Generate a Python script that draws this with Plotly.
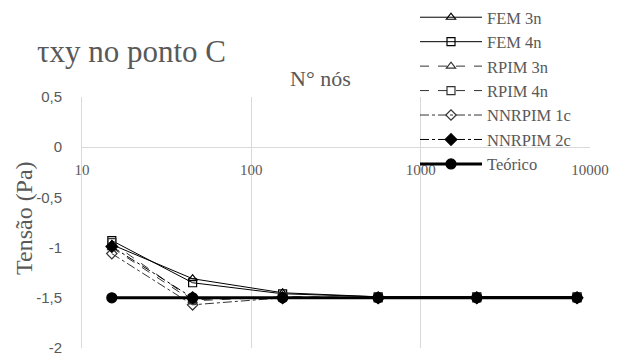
import plotly.graph_objects as go

nodes = [15, 45, 153, 561, 2145, 8385]
fem3 = [-0.97, -1.31, -1.45, -1.49, -1.49, -1.49]
fem4 = [-0.93, -1.35, -1.46, -1.49, -1.49, -1.49]
rpim3 = [-1.00, -1.53, -1.49, -1.50, -1.50, -1.50]
rpim4 = [-0.95, -1.52, -1.49, -1.50, -1.50, -1.50]
nnr1 = [-1.06, -1.57, -1.50, -1.50, -1.50, -1.50]
nnr2 = [-0.99, -1.50, -1.50, -1.50, -1.50, -1.50]
teo = [-1.5, -1.5, -1.5, -1.5, -1.5, -1.5]

ytickvals = [0.5, 0, -0.5, -1, -1.5, -2]
yticktext = ["0,5", "0", "-0,5", "-1", "-1,5", "-2"]
xtickvals = [10, 100, 1000, 10000]
xticktext = ["10", "100", "1000", "10000"]

W, H = 617, 358
ml, mr, mt, mb = 82, 27, 97, 10
PW, PH = W - ml - mr, H - mt - mb

serif = "Liberation Serif, serif"
grey = "#595959"
grid = "#d9d9d9"

series = [
    ("FEM 3n", fem3, "solid", "triangle-up-open", 1, 8, "black"),
    ("FEM 4n", fem4, "solid", "square-open", 1, 8, "black"),
    ("RPIM 3n", rpim3, "dash", "triangle-up-open", 1, 8, "#333333"),
    ("RPIM 4n", rpim4, "dash", "square-open", 1, 8, "#333333"),
    ("NNRPIM 1c", nnr1, "dashdot", "diamond-open", 1, 8, "#333333"),
    ("NNRPIM 2c", nnr2, "dashdot", "diamond", 1, 9, "black"),
    ("Teórico", teo, "solid", "circle", 3, 10, "black"),
]

fig = go.Figure()
for name, ys, dash, sym, lw, ms, col in series:
    fig.add_trace(go.Scatter(
        x=nodes, y=ys, name=name, mode="lines+markers",
        line=dict(color=col, width=lw, dash=dash),
        marker=dict(symbol=sym, size=ms, color=col,
                    line=dict(color=col, width=1.2)),
    ))

fig.update_layout(
    width=W, height=H,
    margin=dict(l=ml, r=mr, t=mt, b=mb, autoexpand=False),
    paper_bgcolor="white", plot_bgcolor="white",
    separators=",.",
    showlegend=True,
    legend=dict(
        x=(415 - ml) / PW, xref="paper",
        y=1.0, yref="container", yanchor="top", xanchor="left",
        font=dict(family=serif, size=16.5, color=grey),
        bgcolor="rgba(255,255,255,0)", borderwidth=0,
        itemwidth=62, maxheight=1,
    ),
    xaxis=dict(
        type="log", range=[1, 4],
        tickvals=xtickvals, ticktext=xticktext,
        showgrid=True, gridcolor=grid, gridwidth=1,
        showline=True, linecolor=grid, linewidth=1,
        zeroline=False, ticks="", ticklabelstandoff=9,
        anchor="free", position=0.8,
        tickfont=dict(family=serif, size=15, color=grey),
    ),
    yaxis=dict(
        range=[-2, 0.5],
        tickvals=ytickvals, ticktext=yticktext,
        showgrid=False, zeroline=False,
        showline=True, linecolor=grid, linewidth=1,
        ticks="outside", ticklen=16, tickcolor="rgba(0,0,0,0)",
        ticklabelstandoff=0,
        tickfont=dict(family="Liberation Sans", size=15, color=grey),
    ),
    annotations=[
        dict(text="τxy no ponto C", xref="paper", yref="paper",
             x=(35 - ml) / PW, y=1 + (mt - 52) / PH,
             xanchor="left", yanchor="middle", showarrow=False,
             font=dict(family=serif, size=31, color=grey)),
        dict(text="N° nós", xref="paper", yref="paper",
             x=(320 - ml) / PW, y=1 + (mt - 78) / PH,
             xanchor="center", yanchor="middle", showarrow=False,
             font=dict(family=serif, size=22, color=grey)),
        dict(text="Tensão (Pa)", xref="paper", yref="paper",
             x=(24 - ml) / PW, y=1 - (218 - mt) / PH,
             xanchor="center", yanchor="middle", showarrow=False, textangle=-90,
             font=dict(family=serif, size=24, color=grey)),
    ],
)

fig.write_html("out.html")
